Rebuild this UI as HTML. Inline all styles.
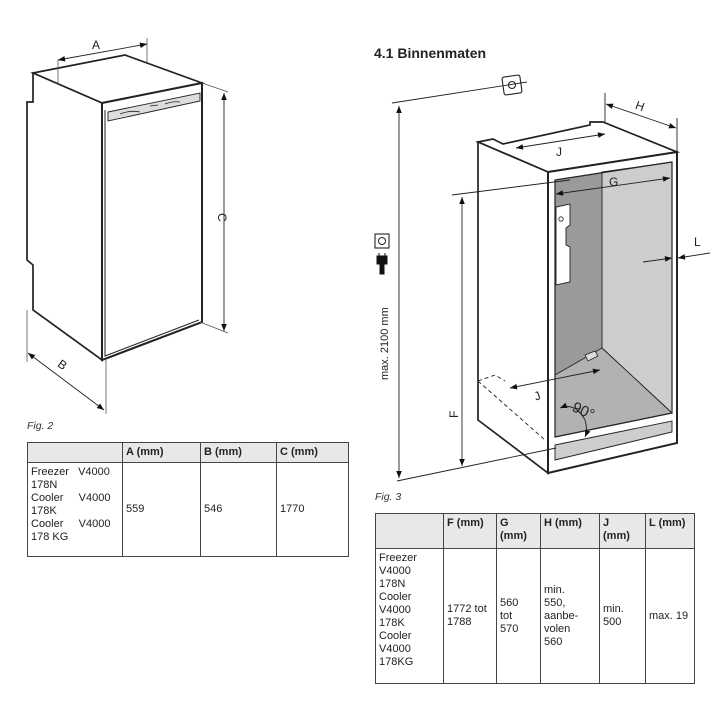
<!DOCTYPE html>
<html><head><meta charset="utf-8"><style>
body{margin:0;background:#fff;width:720px;height:720px;position:relative;overflow:hidden;font-family:"Liberation Sans","DejaVu Sans",sans-serif;color:#222}
svg{position:absolute;left:0;top:0}
table{position:absolute;border-collapse:collapse;font-size:11px;line-height:13px;table-layout:fixed}
td,th{border:1.5px solid #444;vertical-align:top;padding:3px 3px;text-align:left}
th{background:#e8e8e8;font-weight:bold}
.fig{position:absolute;font-size:10.5px;font-style:italic;color:#333}
</style></head><body>
<svg width="720" height="720" viewBox="0 0 720 720">
<defs>
<marker id="a" viewBox="0 0 10 10" refX="10" refY="5" markerWidth="9" markerHeight="7" orient="auto-start-reverse" markerUnits="userSpaceOnUse"><path d="M0,1L10,5L0,9z" fill="#111"/></marker>
</defs>
<g fill="none" stroke="#222" stroke-width="1.7">
<!-- left fridge -->
<path d="M33,73 L125,55 L202,83 L102,103 Z" fill="#fff"/>
<path d="M33,73 L33,102 L27,102 L27,260 L33,265 L33,310 L102,360 L102,103 Z" fill="#fff"/>
<path d="M102,103 L202,83 L202,322 L102,360 Z" fill="#fff" stroke-width="2"/>
<path d="M105,110 L105,356 L199,320" stroke-width="1"/>
<path d="M108,112 L200,93 L200,101 L108,121 Z" fill="#ddd" stroke-width="0.9"/>
<path d="M120,114 q10,-4 20,-2 M150,106 l8,-1 M165,104 q8,-3 15,-2" stroke-width="0.8"/>
<g stroke-width="0.8" stroke="#555">
<line x1="58" y1="60" x2="58" y2="84"/><line x1="147" y1="38" x2="147" y2="62"/>
<line x1="202" y1="83" x2="228" y2="92"/><line x1="200" y1="322" x2="228" y2="333"/>
<line x1="27" y1="310" x2="27" y2="362"/><line x1="106" y1="360" x2="106" y2="414"/>
</g>
<line x1="58" y1="60" x2="147" y2="44" marker-start="url(#a)" marker-end="url(#a)" stroke-width="0.9"/>
<line x1="224" y1="93" x2="224" y2="331" marker-start="url(#a)" marker-end="url(#a)" stroke-width="0.9"/>
<line x1="28" y1="353" x2="104" y2="410" marker-start="url(#a)" marker-end="url(#a)" stroke-width="0.9"/>

<!-- right cabinet -->
<path d="M478,142 L493,139 L503,144 L590,125 L590,122 L603,122 L677,152 L548,172 Z" fill="#fff"/>
<path d="M478,142 L548,172 L548,473 L478,420 Z" fill="#fff"/>
<path d="M548,172 L677,152 L677,443 L548,473 Z" fill="#fff" stroke-width="2"/>
<path d="M555,180 L602,172 L602,348 L555,375 Z" fill="#9a9a9a" stroke="none"/>
<path d="M602,172 L672,162 L672,413 L602,348 Z" fill="#cdcdcd" stroke-width="0.9"/>
<path d="M555,375 L602,348 L672,413 L555,437 Z" fill="#b2b2b2" stroke-width="0.9"/>
<path d="M555,180 L672,162 L672,413 L555,437 Z" stroke-width="1.2"/>
<path d="M555,445 L672,421 L672,432 L555,460 Z" fill="#cdcdcd" stroke-width="0.9"/>
<path d="M556,207 L570,204 L570,225 L566,228 L566,245 L570,247 L570,282 L556,285 Z" fill="#fff" stroke-width="0.9"/>
<circle cx="561" cy="219" r="2.2" stroke-width="0.8"/>
<path d="M585,355 L595,351 L598,356 L588,361 Z" fill="#ddd" stroke-width="0.8"/>
<path d="M478,381 L495,375 L505,381 M478,381 L545,440" stroke-dasharray="4,3" stroke-width="0.9"/>
<!-- dims -->
<g stroke-width="0.9">
<line x1="392" y1="103" x2="527" y2="82"/>
<line x1="399" y1="106" x2="399" y2="478" marker-start="url(#a)" marker-end="url(#a)"/>
<line x1="397" y1="481" x2="556" y2="448"/>
<line x1="452" y1="195" x2="570" y2="180"/>
<line x1="462" y1="197" x2="462" y2="466" marker-start="url(#a)" marker-end="url(#a)"/>
<line x1="556" y1="194" x2="670" y2="178" marker-start="url(#a)" marker-end="url(#a)"/>
<line x1="516" y1="148" x2="605" y2="134" marker-start="url(#a)" marker-end="url(#a)"/>
<line x1="605" y1="93" x2="605" y2="123"/><line x1="677" y1="118" x2="677" y2="152"/>
<line x1="606" y1="104" x2="676" y2="128" marker-start="url(#a)" marker-end="url(#a)"/>
<line x1="643" y1="262" x2="672" y2="258" marker-end="url(#a)"/>
<line x1="710" y1="253" x2="678" y2="258" marker-end="url(#a)"/>
<line x1="510" y1="388" x2="600" y2="370" marker-start="url(#a)" marker-end="url(#a)"/>
<path d="M560,408 Q575,402 585,420 Q588,430 585,437" marker-start="url(#a)" marker-end="url(#a)"/>
</g>
<!-- outlet icons -->
<rect x="503" y="76" width="18" height="18" rx="2" stroke-width="1.1" transform="rotate(-8 512 85)"/>
<circle cx="512" cy="85" r="3.5" stroke-width="1.1"/>
<rect x="375" y="234" width="14" height="14" stroke-width="1.1"/>
<circle cx="382" cy="241" r="3.5" stroke-width="1"/>
</g>
<path d="M377,256 h10 v8 h-3 v10 h-4 v-10 h-3z M379,253 v4 M385,253 v4" fill="#111" stroke="#111" stroke-width="1"/>
<g font-size="12" fill="#222" font-family="Liberation Sans, sans-serif">
<text x="92" y="49">A</text>
<text x="218" y="213" transform="rotate(90 218 213)">C</text>
<text x="56" y="368" transform="rotate(35 60 368)">B</text>
<text x="609" y="186">G</text>
<text x="636" y="110" transform="rotate(20 640 105)">H</text>
<text x="556" y="156">J</text>
<text x="534" y="400" transform="rotate(-20 537 395)">J</text>
<text x="694" y="246">L</text>
<text x="458" y="418" transform="rotate(-90 458 418)">F</text>
<text x="573" y="414" font-size="15" transform="rotate(25 580 408)">90°</text>
<text x="388" y="380" font-size="11" transform="rotate(-90 388 380)">max. 2100 mm</text>
<text x="374" y="58" font-size="14" font-weight="bold">4.1  Binnenmaten</text>
</g>
</svg>
<div class="fig" style="left:27px;top:420px">Fig. 2</div>
<table style="left:27px;top:442px;width:322px">
<tr><th style="width:88px"></th><th style="width:71px">A (mm)</th><th style="width:69px">B (mm)</th><th>C (mm)</th></tr>
<tr><td style="height:87px">Freezer&nbsp;&nbsp;&nbsp;V4000<br>178N<br>Cooler&nbsp;&nbsp;&nbsp;&nbsp;&nbsp;V4000<br>178K<br>Cooler&nbsp;&nbsp;&nbsp;&nbsp;&nbsp;V4000<br>178 KG</td><td style="vertical-align:middle">559</td><td style="vertical-align:middle">546</td><td style="vertical-align:middle">1770</td></tr>
</table>
<div class="fig" style="left:375px;top:491px">Fig. 3</div>
<table style="left:375px;top:513px;width:320px">
<tr><th style="width:61px;height:28px"></th><th style="width:46px">F (mm)</th><th style="width:37px">G<br>(mm)</th><th style="width:52px">H (mm)</th><th style="width:39px">J<br>(mm)</th><th>L (mm)</th></tr>
<tr><td style="height:128px">Freezer<br>V4000<br>178N<br>Cooler<br>V4000<br>178K<br>Cooler<br>V4000<br>178KG</td><td style="vertical-align:middle">1772 tot<br>1788</td><td style="vertical-align:middle">560<br>tot<br>570</td><td style="vertical-align:middle">min.<br>550,<br>aanbe-<br>volen<br>560</td><td style="vertical-align:middle">min.<br>500</td><td style="vertical-align:middle">max. 19</td></tr>
</table>
</body></html>
